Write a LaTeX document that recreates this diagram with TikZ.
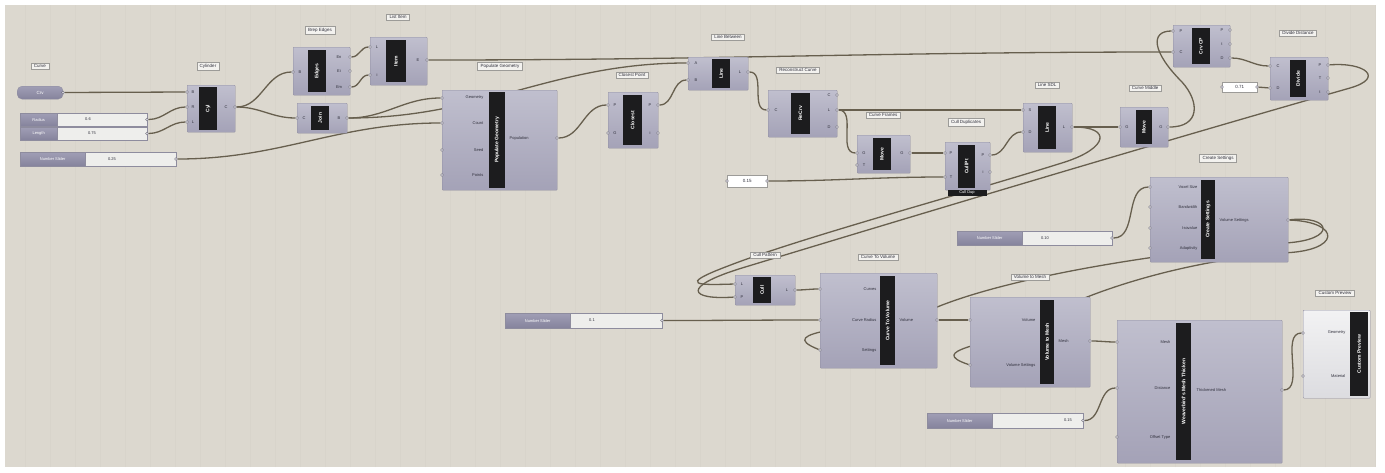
\documentclass[tikz,border=0pt]{standalone}
\usepackage{fontspec}
\setmainfont{Liberation Sans}
\usetikzlibrary{calc}
\pgfdeclarelayer{bg}
\pgfdeclarelayer{wires}
\pgfsetlayers{bg,wires,main}
\definecolor{bgc}{HTML}{DCD8CF}
\definecolor{gridc}{HTML}{D8D4CB}
\definecolor{comptop}{HTML}{C0BFCE}
\definecolor{compbot}{HTML}{A4A2B7}
\definecolor{compedge}{HTML}{8E8C9E}
\definecolor{stripc}{HTML}{1C1C1E}
\definecolor{wirec}{HTML}{675F4E}
\definecolor{textc}{HTML}{30303C}
\definecolor{glfill}{HTML}{F3F2EF}
\definecolor{gledge}{HTML}{9C9B98}
\definecolor{portc}{HTML}{D2D1DA}
\definecolor{portedge}{HTML}{55535F}
\definecolor{sltop}{HTML}{A09EB5}
\definecolor{slbot}{HTML}{85839C}
\definecolor{sllight}{HTML}{EEEEEC}
\definecolor{prevtop}{HTML}{F2F2F3}
\definecolor{prevbot}{HTML}{DCDCE0}
\newcommand\ghcomp[5]{\node[comp, minimum width={#4-#2}, minimum height={#5-#3}, anchor=north west] (#1) at (#2,#3) {};}
\newcommand\ghprev[5]{\node[comp, top color=prevtop, bottom color=prevbot, minimum width={#4-#2}, minimum height={#5-#3}, anchor=north west] (#1) at (#2,#3) {};}
\newcommand\ghstrip[6]{\node[strip, minimum width={#5-#3}, minimum height={#4-#2}, rotate=90] (#1) at ({(#2+#4)/2},{(#3+#5)/2}) {#6};}
\newcommand\ghport[3]{\node[port] (#1) at (#2,#3) {};}
\newcommand\ghslider[9]{% name, x1, y1, xsplit, x2, y2, label, value, valuex
  \node[sldark, minimum width={#4-#2}, minimum height={#6-#3}, anchor=north west] (#1-a) at (#2,#3) {#7};
  \node[sllt, minimum width={#5-#4}, minimum height={#6-#3}, anchor=north west] (#1-b) at (#4,#3) {};
  \node[plab] (#1-v) at (#9,{(#3+#6)/2}) {#8};
  \node[port] (#1-o) at (#5,{(#3+#6)/2}) {};}
\begin{document}
\begin{tikzpicture}[x=1pt,y=-1pt,
  comp/.style={draw=compedge, line width=0.4pt, top color=comptop, bottom color=compbot, inner sep=0pt, rounded corners=0.8pt},
  strip/.style={fill=stripc, text=white, inner sep=0pt, font=\fontsize{5}{5}\selectfont\bfseries},
  port/.style={circle, fill=portc, draw=portedge, line width=0.3pt, minimum size=3pt, inner sep=0pt},
  plab/.style={font=\fontsize{4}{4.5}\selectfont, text=textc, inner sep=0.5pt},
  glabel/.style={draw=gledge, fill=glfill, font=\fontsize{4.5}{5}\selectfont, text=textc, inner xsep=3pt, inner ysep=1.6pt, line width=0.4pt},
  sldark/.style={top color=sltop, bottom color=slbot, draw=compedge, line width=0.3pt, font=\fontsize{4}{4.5}\selectfont, text=white, inner sep=1pt},
  sllt/.style={fill=sllight, draw=compedge, line width=0.3pt, inner sep=0pt},
  panelbox/.style={fill=white, draw=gledge, line width=0.4pt, font=\fontsize{4.5}{5}\selectfont, text=textc, inner sep=1pt},
  param/.style={top color=sltop, bottom color=slbot, draw=compedge, line width=0.3pt, rounded corners=5pt, font=\fontsize{4.5}{5}\selectfont, text=white, inner sep=0pt},
  tag/.style={fill=stripc, text=white, inner sep=0.8pt, font=\fontsize{4}{4.5}\selectfont},
  wire/.style={draw=wirec, line width=1.3pt}
]
\useasboundingbox (0,0) rectangle (1385,472);
\begin{pgfonlayer}{bg}
  \fill[white] (0,0) rectangle (1385,472);
  \fill[bgc] (5,5) rectangle (1375,467);
  \draw[gridc, line width=0.3pt, step=25] (5,5) grid (1375,467);
\end{pgfonlayer}

% ---------- parameters and sliders ----------
\node[param, minimum width=46, minimum height=13, anchor=north west] (cp) at (17,86) {Crv};
\ghport{cp-o}{63}{92.5}
\node[glabel] (cp-g) at (40,66) {Curve};
\ghslider{s1}{20}{113}{57}{147}{126}{Radius}{0.6}{88}
\ghslider{s2}{20}{127}{57}{147}{140}{Length}{0.75}{92}
\ghslider{s3}{20}{152}{85}{176}{166}{Number Slider}{0.25}{112}
\ghslider{s4}{505}{313}{570}{662}{328}{Number Slider}{0.1}{592}
\ghslider{s5}{957}{231}{1022}{1112}{245}{Number Slider}{0.10}{1045}
\ghslider{s6}{927}{413}{992}{1083}{428}{Number Slider}{0.15}{1068}
\node[panelbox, minimum width=40, minimum height=12, anchor=north west] (p1) at (727,175) {0.15};
\ghport{p1-i}{727}{181}\ghport{p1-o}{767}{181}
\node[panelbox, minimum width=35, minimum height=10, anchor=north west] (p2) at (1222,82) {0.71};
\ghport{p2-i}{1222}{87}\ghport{p2-o}{1257}{87}

% ---------- components ----------
% A Cylinder
\ghcomp{A}{187}{85}{235}{132}\ghstrip{A-s}{199}{87}{217}{130}{Cyl}
\node[glabel] (A-g) at (208,66) {Cylinder};
\ghport{A-i1}{187}{92}\ghport{A-i2}{187}{107}\ghport{A-i3}{187}{122}\ghport{A-o}{235}{107}
\node[plab] (A-l1) at (193,92) {B};\node[plab] (A-l2) at (193,107) {R};\node[plab] (A-l3) at (193,122) {L};\node[plab] (A-l4) at (226,107) {C};
% B Brep Edges
\ghcomp{B}{293}{47}{350}{95}\ghstrip{B-s}{308}{50}{326}{92}{Edges}
\node[glabel] (B-g) at (320,30) {Brep Edges};
\ghport{B-i}{293}{72}\ghport{B-o1}{350}{57}\ghport{B-o2}{350}{71}\ghport{B-o3}{350}{87}
\node[plab] (B-l1) at (300,72) {B};\node[plab] (B-l2) at (339,57) {En};\node[plab] (B-l3) at (339,71) {Ei};\node[plab] (B-l4) at (339,87) {Em};
% C Join
\ghcomp{C}{297}{103}{347}{133}\ghstrip{C-s}{311}{106}{329}{130}{Join}
\ghport{C-i}{297}{118}\ghport{C-o}{347}{118}
\node[plab] (C-l1) at (304,118) {C};\node[plab] (C-l2) at (339,118) {B};
% D List Item
\ghcomp{D}{370}{37}{427}{85}\ghstrip{D-s}{386}{40}{406}{82}{Item}
\node[glabel] (D-g) at (398,17) {List Item};
\ghport{D-i1}{370}{47}\ghport{D-i2}{370}{75}\ghport{D-o}{427}{60}
\node[plab] (D-l1) at (377,47) {L};\node[plab] (D-l2) at (377,75) {i};\node[plab] (D-l3) at (418,60) {E};
% E Populate Geometry
\ghcomp{E}{442}{90}{557}{190}\ghstrip{E-s}{489}{92}{505}{188}{Populate Geometry}
\node[glabel] (E-g) at (500,66) {Populate Geometry};
\ghport{E-i1}{442}{98}\ghport{E-i2}{442}{123}\ghport{E-i3}{442}{150}\ghport{E-i4}{442}{175}\ghport{E-o}{557}{138}
\node[plab, anchor=east] (E-l1) at (484,98) {Geometry};\node[plab, anchor=east] (E-l2) at (484,123) {Count};
\node[plab, anchor=east] (E-l3) at (484,150) {Seed};\node[plab, anchor=east] (E-l4) at (484,175) {Points};
\node[plab, anchor=west] (E-l5) at (509,138) {Population};
% F Closest Point
\ghcomp{F}{608}{92}{658}{148}\ghstrip{F-s}{623}{95}{642}{145}{Closest}
\node[glabel] (F-g) at (632,75) {Closest Point};
\ghport{F-i1}{608}{105}\ghport{F-i2}{608}{133}\ghport{F-o1}{658}{105}\ghport{F-o2}{658}{133}
\node[plab] (F-l1) at (615,105) {P};\node[plab] (F-l2) at (615,133) {G};\node[plab] (F-l3) at (650,105) {P};\node[plab] (F-l4) at (650,133) {i};
% G Line
\ghcomp{G}{688}{57}{748}{90}\ghstrip{G-s}{712}{59}{730}{88}{Line}
\node[glabel] (G-g) at (728,37) {Line Between};
\ghport{G-i1}{688}{63}\ghport{G-i2}{688}{80}\ghport{G-o}{748}{72}
\node[plab] (G-l1) at (696,63) {A};\node[plab] (G-l2) at (696,80) {B};\node[plab] (G-l3) at (740,72) {L};
% H Reconstruct
\ghcomp{H}{768}{90}{837}{137}\ghstrip{H-s}{791}{93}{810}{134}{ReCrv}
\node[glabel] (H-g) at (798,70) {Reconstruct Curve};
\ghport{H-i}{768}{110}\ghport{H-o1}{837}{95}\ghport{H-o2}{837}{110}\ghport{H-o3}{837}{127}
\node[plab] (H-l1) at (776,110) {C};\node[plab] (H-l2) at (829,95) {C};\node[plab] (H-l3) at (829,110) {L};\node[plab] (H-l4) at (829,127) {D};
% I Frames
\ghcomp{I}{857}{135}{910}{173}\ghstrip{I-s}{873}{138}{891}{170}{Move}
\node[glabel] (I-g) at (883,115) {Curve Frames};
\ghport{I-i1}{857}{153}\ghport{I-i2}{857}{165}\ghport{I-o}{910}{153}
\node[plab] (I-l1) at (864,153) {G};\node[plab] (I-l2) at (864,165) {T};\node[plab] (I-l3) at (902,153) {G};
% J Cull Duplicates
\ghcomp{J}{945}{142}{990}{190}\ghstrip{J-s}{958}{145}{975}{188}{CullPt}
\node[glabel] (J-g) at (966,122) {Cull Duplicates};
\node[tag, minimum width=39, anchor=north] (J-t) at (967,190) {Cull Dup};
\ghport{J-i1}{945}{153}\ghport{J-i2}{945}{177}\ghport{J-o1}{990}{155}\ghport{J-o2}{990}{172}
\node[plab] (J-l1) at (951,153) {P};\node[plab] (J-l2) at (951,177) {T};\node[plab] (J-l3) at (983,155) {P};\node[plab] (J-l4) at (983,172) {i};
% K Line SDL
\ghcomp{K}{1023}{103}{1072}{152}\ghstrip{K-s}{1038}{106}{1056}{149}{Line}
\node[glabel] (K-g) at (1047,85) {Line SDL};
\ghport{K-i1}{1023}{110}\ghport{K-i2}{1023}{132}\ghport{K-o}{1072}{127}
\node[plab] (K-l1) at (1030,110) {S};\node[plab] (K-l2) at (1030,132) {D};\node[plab] (K-l3) at (1064,127) {L};
% L Curve Middle
\ghcomp{L}{1120}{107}{1168}{147}\ghstrip{L-s}{1136}{110}{1152}{144}{Move}
\node[glabel] (L-g) at (1145,88) {Curve Middle};
\ghport{L-i}{1120}{127}\ghport{L-o}{1168}{127}
\node[plab] (L-l1) at (1127,127) {G};\node[plab] (L-l2) at (1161,127) {G};
% M Curve CP
\ghcomp{M}{1173}{25}{1230}{67}\ghstrip{M-s}{1192}{28}{1210}{64}{Crv CP}
\ghport{M-i1}{1173}{31}\ghport{M-i2}{1173}{52}\ghport{M-o1}{1230}{30}\ghport{M-o2}{1230}{44}\ghport{M-o3}{1230}{58}
\node[plab] (M-l1) at (1181,31) {P};\node[plab] (M-l2) at (1181,52) {C};\node[plab] (M-l3) at (1222,30) {P};\node[plab] (M-l4) at (1222,44) {t};\node[plab] (M-l5) at (1222,58) {D};
% N Divide Distance
\ghcomp{N}{1270}{57}{1328}{100}\ghstrip{N-s}{1290}{60}{1306}{97}{Divide}
\node[glabel] (N-g) at (1298,33) {Divide Distance};
\ghport{N-i1}{1270}{66}\ghport{N-i2}{1270}{88}\ghport{N-o1}{1328}{65}\ghport{N-o2}{1328}{78}\ghport{N-o3}{1328}{92}
\node[plab] (N-l1) at (1278,66) {C};\node[plab] (N-l2) at (1278,88) {D};\node[plab] (N-l3) at (1320,65) {P};\node[plab] (N-l4) at (1320,78) {T};\node[plab] (N-l5) at (1320,92) {t};
% O Create Settings
\ghcomp{O}{1150}{177}{1288}{262}\ghstrip{O-s}{1201}{180}{1215}{259}{Create Settings}
\node[glabel] (O-g) at (1218,158) {Create Settings};
\ghport{O-i1}{1150}{187}\ghport{O-i2}{1150}{207}\ghport{O-i3}{1150}{228}\ghport{O-i4}{1150}{248}\ghport{O-o}{1288}{220}
\node[plab, anchor=east] (O-l1) at (1198,187) {Voxel Size};\node[plab, anchor=east] (O-l2) at (1198,207) {Bandwidth};
\node[plab, anchor=east] (O-l3) at (1198,228) {Isovalue};\node[plab, anchor=east] (O-l4) at (1198,248) {Adaptivity};
\node[plab, anchor=west] (O-l5) at (1219,220) {Volume Settings};
% P Cull
\ghcomp{P}{735}{275}{795}{305}\ghstrip{P-s}{753}{277}{771}{303}{Cull}
\node[glabel] (P-g) at (765,255) {Cull Pattern};
\ghport{P-i1}{735}{284}\ghport{P-i2}{735}{297}\ghport{P-o}{795}{290}
\node[plab] (P-l1) at (742,284) {L};\node[plab] (P-l2) at (742,297) {P};\node[plab] (P-l3) at (787,290) {L};
% Q Curve To Volume
\ghcomp{Q}{820}{273}{937}{368}\ghstrip{Q-s}{880}{276}{895}{365}{Curve To Volume}
\node[glabel] (Q-g) at (878,257) {Curve To Volume};
\ghport{Q-i1}{820}{289}\ghport{Q-i2}{820}{320}\ghport{Q-i3}{820}{350}\ghport{Q-o}{937}{320}
\node[plab, anchor=east] (Q-l1) at (877,289) {Curves};\node[plab, anchor=east] (Q-l2) at (877,320) {Curve Radius};
\node[plab, anchor=east] (Q-l3) at (877,350) {Settings};\node[plab, anchor=west] (Q-l4) at (899,320) {Volume};
% R Volume to Mesh
\ghcomp{R}{970}{297}{1090}{387}\ghstrip{R-s}{1040}{300}{1054}{384}{Volume to Mesh}
\node[glabel] (R-g) at (1030,277) {Volume to Mesh};
\ghport{R-i1}{970}{320}\ghport{R-i2}{970}{365}\ghport{R-o}{1090}{341}
\node[plab, anchor=east] (R-l1) at (1036,320) {Volume};\node[plab, anchor=east] (R-l2) at (1036,365) {Volume Settings};
\node[plab, anchor=west] (R-l3) at (1058,341) {Mesh};
% S Mesh Thicken
\ghcomp{S}{1117}{320}{1282}{463}\ghstrip{S-s}{1176}{323}{1191}{460}{Weaverbird's Mesh Thicken}
\ghport{S-i1}{1117}{342}\ghport{S-i2}{1117}{388}\ghport{S-i3}{1117}{437}\ghport{S-o}{1282}{390}
\node[plab, anchor=east] (S-l1) at (1171,342) {Mesh};\node[plab, anchor=east] (S-l2) at (1171,388) {Distance};
\node[plab, anchor=east] (S-l3) at (1171,437) {Offset Type};\node[plab, anchor=west] (S-l4) at (1196,390) {Thickened Mesh};
% T Custom Preview
\ghprev{T}{1303}{310}{1370}{398}\ghstrip{T-s}{1350}{312}{1368}{396}{Custom Preview}
\node[glabel] (T-g) at (1335,293) {Custom Preview};
\ghport{T-i1}{1303}{333}\ghport{T-i2}{1303}{376}
\node[plab, anchor=east] (T-l1) at (1346,333) {Geometry};\node[plab, anchor=east] (T-l2) at (1346,376) {Material};

% ---------- wires ----------
\begin{pgfonlayer}{wires}
\draw[wire] (cp-o) -- (A-i1);
\draw[wire] (s1-o) to[out=0,in=180] (A-i2);
\draw[wire] (s2-o) to[out=0,in=180] (A-i3);
\draw[wire] (A-o) to[out=0,in=180] (B-i);
\draw[wire] (A-o) to[out=0,in=180] (C-i);
\draw[wire] (B-o1) to[out=0,in=180] (D-i1);
\draw[wire] (B-o3) to[out=0,in=180] (D-i2);
\draw[wire] (C-o) to[out=0,in=180] (E-i1);
\draw[wire] (C-o) to[out=0,in=180] (G-i1);
\draw[wire] (s3-o) to[out=0,in=180] (E-i2);
\draw[wire] (D-o) to[out=0,in=180] (M-i2);
\draw[wire] (E-o) to[out=0,in=180] (F-i1);
\draw[wire] (F-o1) to[out=0,in=180] (G-i2);
\draw[wire] (G-o) to[out=0,in=180] (H-i);
\draw[wire] (H-o2) -- (K-i1);
\draw[wire] (H-o2) to[out=0,in=180] (I-i1);
\draw[wire] (I-o) -- (J-i1);
\draw[wire] (p1-o) to[out=0,in=180] (J-i2);
\draw[wire] (J-o1) to[out=0,in=180] (K-i2);
\draw[wire] (K-o) to[out=0,in=180] (L-i);
\draw[wire] (L-o) .. controls (1200,127) and (1200,102) .. (1182,82) .. controls (1152,52) and (1150,31) .. (M-i1);
\draw[wire] (M-o3) to[out=0,in=180] (N-i1);
\draw[wire] (p2-o) -- (N-i2);
\draw[wire] (K-o) .. controls (1112,127) and (1108,148) .. (1065,162) .. controls (960,195) and (800,238) .. (728,266) .. controls (675,286) and (700,285) .. (P-i1);
\draw[wire] (N-o1) .. controls (1365,62) and (1385,78) .. (1350,88) .. controls (1150,145) and (900,220) .. (742,268) .. controls (680,287) and (690,300) .. (P-i2);
\draw[wire] (P-o) to[out=0,in=180] (Q-i1);
\draw[wire] (s4-o) to[out=0,in=180] (Q-i2);
\draw[wire] (O-o) .. controls (1332,215) and (1338,240) .. (1285,243) .. controls (1180,250) and (1010,275) .. (930,310) .. controls (860,330) and (770,330) .. (Q-i3);
\draw[wire] (O-o) .. controls (1342,222) and (1342,252) .. (1280,253) .. controls (1180,262) and (1080,292) .. (1020,330) .. controls (990,345) and (925,350) .. (R-i2);
\draw[wire] (Q-o) -- (R-i1);
\draw[wire] (s5-o) to[out=0,in=180] (O-i1);
\draw[wire] (R-o) to[out=0,in=180] (S-i1);
\draw[wire] (s6-o) to[out=0,in=180] (S-i2);
\draw[wire] (S-o) .. controls (1305,390) and (1280,333) .. (T-i1);
\end{pgfonlayer}
\end{tikzpicture}
\end{document}
